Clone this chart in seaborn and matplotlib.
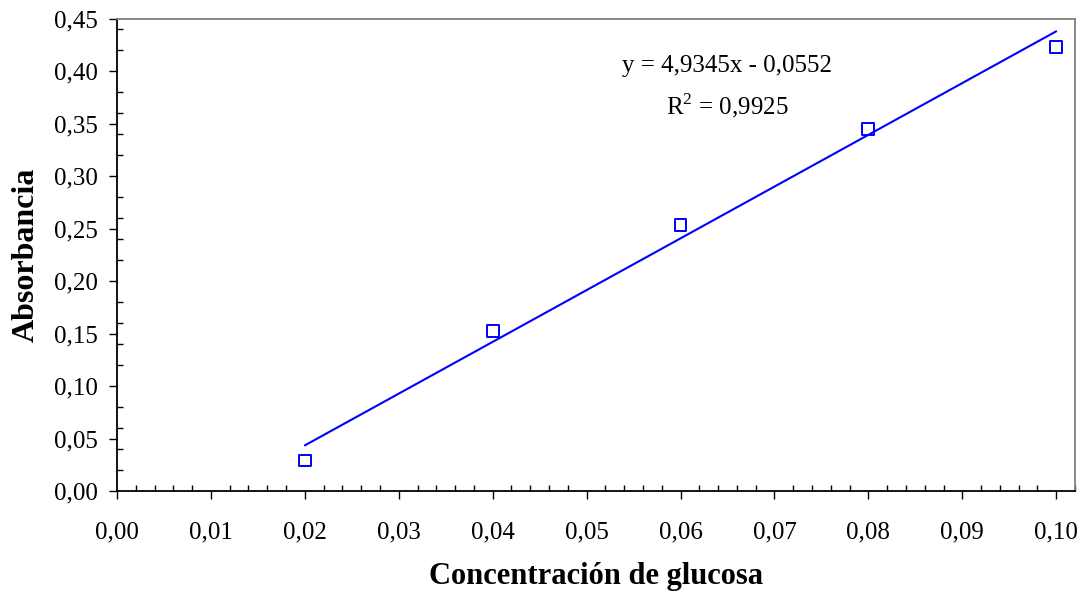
import numpy as np
import pandas as pd
import matplotlib
matplotlib.use("Agg")
import matplotlib.pyplot as plt
import seaborn as sns
from matplotlib.ticker import MultipleLocator, FixedLocator

# ---- data ----
concentracion = [0.02, 0.04, 0.06, 0.08, 0.10]
absorbancia = [0.029, 0.1525, 0.2535, 0.345, 0.4235]
pendiente = 4.9345
intercepto = -0.0552
ecuacion = "y = 4,9345x - 0,0552"
r2_texto = "R$^{2}$ = 0,9925"
x_ticks = [0.00, 0.01, 0.02, 0.03, 0.04, 0.05, 0.06, 0.07, 0.08, 0.09, 0.10]
x_labels = ["0,00", "0,01", "0,02", "0,03", "0,04", "0,05", "0,06", "0,07", "0,08", "0,09", "0,10"]
y_ticks = [0.00, 0.05, 0.10, 0.15, 0.20, 0.25, 0.30, 0.35, 0.40, 0.45]
y_labels = ["0,00", "0,05", "0,10", "0,15", "0,20", "0,25", "0,30", "0,35", "0,40", "0,45"]
x_label = "Concentración de glucosa"
y_label = "Absorbancia"

df = pd.DataFrame({"x": concentracion, "y": absorbancia})
fit_x = [concentracion[0], concentracion[-1]]
fit_df = pd.DataFrame({"x": fit_x, "y": [pendiente * v + intercepto for v in fit_x]})

sns.set_style("white")
plt.rcParams["font.family"] = ["Liberation Serif", "DejaVu Serif"]
plt.rcParams["mathtext.fontset"] = "custom"
plt.rcParams["mathtext.rm"] = "Liberation Serif"
plt.rcParams["text.color"] = "black"
plt.rcParams["axes.labelcolor"] = "black"
plt.rcParams["xtick.color"] = "black"
plt.rcParams["ytick.color"] = "black"

fig = plt.figure(figsize=(10.92, 5.91), dpi=100)
ax = fig.add_axes([117 / 1092, 100 / 591, (1075 - 117) / 1092, (491 - 19) / 591])

sns.lineplot(data=fit_df, x="x", y="y", ax=ax, color="#0000ff", linewidth=1.5)
sns.scatterplot(data=df, x="x", y="y", ax=ax, marker="s", s=72,
                facecolor="none", edgecolor="#0000ff", linewidth=1.4, zorder=3)

ax.set_xlim(0, 0.102)
ax.set_ylim(0, 0.45)
ax.xaxis.set_major_locator(FixedLocator(x_ticks))
ax.set_xticklabels(x_labels)
ax.yaxis.set_major_locator(FixedLocator(y_ticks))
ax.set_yticklabels(y_labels)
ax.xaxis.set_minor_locator(MultipleLocator(0.002))
ax.yaxis.set_minor_locator(MultipleLocator(0.02))

ax.tick_params(axis="both", which="both", bottom=True, left=True, top=False, right=False)
ax.tick_params(axis="both", which="major", direction="out", length=6, width=1,
               color="black", labelsize=18, labelcolor="black")
ax.tick_params(axis="x", which="major", pad=16)
ax.tick_params(axis="y", which="major", pad=8)
ax.tick_params(axis="both", which="minor", direction="in", length=4, width=1, color="black")

for side in ["left", "bottom"]:
    ax.spines[side].set_color("black")
    ax.spines[side].set_linewidth(1.3)
for side in ["top", "right"]:
    ax.spines[side].set_visible(True)
    ax.spines[side].set_color("#808080")
    ax.spines[side].set_linewidth(1.3)

ax.set_xlabel(x_label, fontsize=22, fontweight="bold", labelpad=13)
ax.set_ylabel(y_label, fontsize=23, fontweight="bold", labelpad=9)

ax.text(0.065, 0.405, ecuacion, fontsize=18, ha="center", va="center")
ax.text(0.065, 0.367, r2_texto, fontsize=18, ha="center", va="center")

fig.savefig("out.png", dpi=100, facecolor="white")
